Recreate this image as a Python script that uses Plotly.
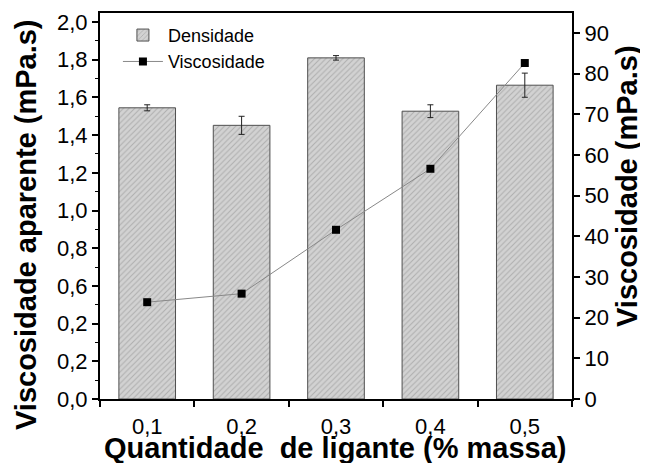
import plotly.graph_objects as go

categorias = [0.1, 0.2, 0.3, 0.4, 0.5]
rotulos_x = ["0,1", "0,2", "0,3", "0,4", "0,5"]
densidade = [1.545, 1.452, 1.81, 1.527, 1.665]
densidade_erro = [0.016, 0.048, 0.012, 0.034, 0.064]
viscosidade = [23.8, 25.9, 41.6, 56.6, 82.6]

y1_ticks = [0.0, 0.2, 0.4, 0.6, 0.8, 1.0, 1.2, 1.4, 1.6, 1.8, 2.0]
y1_labels = ["0,0", "0,2", "0,2", "0,6", "0,8", "1,0", "1,2", "1,4", "1,6", "1,8", "2,0"]
y2_ticks = [0, 10, 20, 30, 40, 50, 60, 70, 80, 90]

FONT = "Liberation Sans, Arial, sans-serif"
NARROW = "Liberation Sans Narrow, Arial Narrow, Liberation Sans, sans-serif"

fig = go.Figure()
fig.add_trace(go.Bar(
    x=categorias, y=densidade, name="Densidade", width=0.06,
    marker=dict(color="#c8c8c8", line=dict(color="#505050", width=1),
                pattern=dict(shape="/", fgcolor="#8a8a8a", bgcolor="#d2d2d2", size=4, solidity=0.25)),
    error_y=dict(type="data", array=densidade_erro, color="#222222", thickness=1, width=3),
    yaxis="y",
))
fig.add_trace(go.Scatter(
    x=categorias, y=viscosidade, name="Viscosidade", mode="lines+markers",
    line=dict(color="#888888", width=1),
    marker=dict(symbol="square", size=8, color="black"),
    yaxis="y2",
))

fig.update_layout(
    width=640, height=455,
    margin=dict(l=92, r=76, t=5, b=64),
    paper_bgcolor="white", plot_bgcolor="white",
    font=dict(family=FONT, color="black", size=22),
    showlegend=True,
    legend=dict(x=0.038, y=0.99, xanchor="left", yanchor="top", bgcolor="rgba(0,0,0,0)",
                font=dict(size=18, family=NARROW), tracegroupgap=0, itemwidth=40),
    xaxis=dict(
        range=[0.05, 0.55], tickvals=categorias, ticktext=rotulos_x,
        ticks="outside", ticklen=5, tickcolor="rgba(0,0,0,0)", ticklabelstandoff=2,
        minor=dict(tickvals=[0.05, 0.15, 0.25, 0.35, 0.45, 0.55], ticks="outside", ticklen=6,
                   tickcolor="black", tickwidth=1.5),
        showline=True, linecolor="black", linewidth=2, mirror=True, showgrid=False, zeroline=False,
        automargin=False,
        tickfont=dict(size=22),
    ),
    yaxis=dict(
        range=[0, 2.048], tickvals=y1_ticks, ticktext=y1_labels, ticks="outside", ticklen=6,
        tickwidth=1.5, tickcolor="black", automargin=False,
        minor=dict(tickvals=[0.1, 0.3, 0.5, 0.7, 0.9, 1.1, 1.3, 1.5, 1.7, 1.9], ticks="outside",
                   ticklen=3, tickcolor="black", tickwidth=1),
        showline=True, linecolor="black", linewidth=2, showgrid=False, zeroline=False,
        tickfont=dict(size=22),
    ),
    yaxis2=dict(
        range=[0, 94.9], tickvals=y2_ticks, ticks="outside", ticklen=6, tickwidth=1.5,
        tickcolor="black", overlaying="y", side="right", automargin=False,
        showline=True, linecolor="black", linewidth=2, showgrid=False, zeroline=False,
        tickfont=dict(size=22),
    ),
    annotations=[
        dict(text="<b>Quantidade  de ligante (% massa)</b>",
             xref="paper", yref="paper", x=0.4979, y=-0.1269, xanchor="center", yanchor="middle",
             showarrow=False, font=dict(size=29, family=FONT, color="black")),
        dict(text="<b>Viscosidade aparente (mPa.s)</b>", textangle=-90,
             xref="paper", yref="paper", x=-0.1568, y=0.4508, xanchor="center", yanchor="middle",
             showarrow=False, font=dict(size=29, family=FONT, color="black")),
        dict(text="<b>Viscosidade (mPa.s)</b>", textangle=-90,
             xref="paper", yref="paper", x=1.1165, y=0.5518, xanchor="center", yanchor="middle",
             showarrow=False, font=dict(size=29, family=FONT, color="black")),
    ],
)

fig.write_html("out.html")
